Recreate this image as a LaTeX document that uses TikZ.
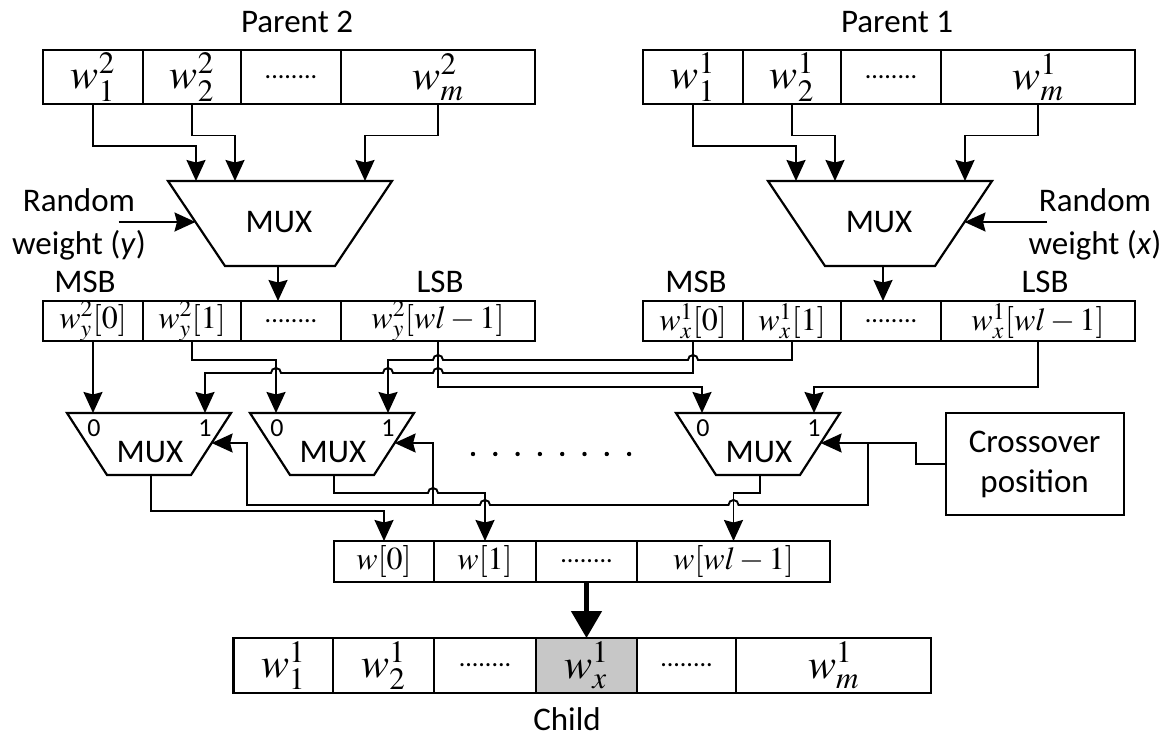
\documentclass[tikz,border=0pt]{standalone}
\usepackage{mathptmx}
\usepackage[no-math]{fontspec}
\setmainfont{Carlito}
\usetikzlibrary{arrows.meta}

\tikzset{
  every node/.style={font=\fontsize{33}{43}\selectfont, inner sep=0pt, outer sep=0pt},
  cell/.style={draw, line width=2.2pt, inner sep=0pt, outer sep=0pt},
  bigw/.style={font=\fontsize{42}{50}\selectfont},
  smallw/.style={font=\fontsize{32}{40}\selectfont},
  gapdots/.style={font=\fontsize{26}{30}\selectfont},
  portlbl/.style={font=\fontsize{26}{30}\selectfont},
  wire/.style={line width=1.9pt, line join=miter},
  arr/.style={wire, -{Stealth[length=21pt,width=19pt,inset=2.5pt]}},
  muxline/.style={line width=2.2pt, line join=miter},
  fat/.style={line width=4.8pt, -{Triangle[length=27pt,width=30pt]}},
}

% two-input multiplexer of the bit stage: name, centre x
\newcommand\drawsmallmux[2]{%
  \draw[muxline] ({#2-82},413) -- ({#2+82},413) -- ({#2+42},475) -- ({#2-42},475) -- cycle;
  \node (#1) at ({#2+1},452) {MUX};
  \node[portlbl] (#1-l0) at ({#2-55},428) {0};
  \node[portlbl] (#1-l1) at ({#2+56},428) {1};
  \coordinate (#1-i0) at ({#2-56},413);
  \coordinate (#1-i1) at ({#2+56},413);
  \coordinate (#1-sel) at ({#2+62.6},443);
  \coordinate (#1-out) at ({#2+2},475);
}

\begin{document}
\begin{tikzpicture}[x=1pt, y=-1pt]
\useasboundingbox (0,0) rectangle (1168,739);
\fill[white] (0,0) rectangle (1168,739);

% ---------- parent chromosomes ----------
\node (par2) at (297,22) {Parent 2};
\node (par1) at (897,22) {Parent 1};

\node[cell, bigw, minimum width=100, minimum height=54] (p2a) at (93,77) {$w_1^2$};
\node[cell, bigw, minimum width=98,  minimum height=54] (p2b) at (192,77) {$w_2^2$};
\node[cell, gapdots, minimum width=100, minimum height=54] (p2c) at (291,77) {........};
\node[cell, bigw, minimum width=194, minimum height=54] (p2d) at (438,77) {$w_m^2$};

\node[cell, bigw, minimum width=100, minimum height=54] (p1a) at (693,77) {$w_1^1$};
\node[cell, bigw, minimum width=98,  minimum height=54] (p1b) at (792,77) {$w_2^1$};
\node[cell, gapdots, minimum width=100, minimum height=54] (p1c) at (891,77) {........};
\node[cell, bigw, minimum width=194, minimum height=54] (p1d) at (1038,77) {$w_m^1$};

% ---------- weight selection multiplexers ----------
\draw[muxline] (168,181) -- (392,181) -- (335,266) -- (225,266) -- cycle;
\node (muxP2) at (279,222) {MUX};
\coordinate (muxP2-i1) at (196,181);
\coordinate (muxP2-i2) at (235,181);
\coordinate (muxP2-i3) at (365,181);
\coordinate (muxP2-sel) at (195.5,222);
\coordinate (muxP2-out) at (278,266);

\draw[muxline] (768,181) -- (992,181) -- (935,266) -- (825,266) -- cycle;
\node (muxP1) at (879,222) {MUX};
\coordinate (muxP1-i1) at (796,181);
\coordinate (muxP1-i2) at (835,181);
\coordinate (muxP1-i3) at (965,181);
\coordinate (muxP1-sel) at (964.5,222);
\coordinate (muxP1-out) at (883,266);

\draw[arr] (p2a.south) -- ++(0,42) -| (muxP2-i1);
\draw[arr] (p2b.south) -- ++(0,31.5) -| (muxP2-i2);
\draw[arr] (p2d.south) -- ++(0,31.5) -| (muxP2-i3);
\draw[arr] (p1a.south) -- ++(0,42) -| (muxP1-i1);
\draw[arr] (p1b.south) -- ++(0,31.5) -| (muxP1-i2);
\draw[arr] (p1d.south) -- ++(0,31.5) -| (muxP1-i3);

\node[align=center] (rndY) at (79,224.5) {Random\\weight (\textit{y})};
\node[align=center] (rndX) at (1095,224.5) {Random\\weight (\textit{x})};
\coordinate (rndY-o) at (118.5,222);
\coordinate (rndX-o) at (1047,222);
\draw[arr] (rndY-o) -- (muxP2-sel);
\draw[arr] (rndX-o) -- (muxP1-sel);

% ---------- selected weights, bit by bit ----------
\node (msbY) at (85,282) {MSB};
\node (lsbY) at (440,282) {LSB};
\node (msbX) at (696,282) {MSB};
\node (lsbX) at (1045,282) {LSB};

\node[cell, smallw, minimum width=100, minimum height=40] (ya) at (93,321) {$w_y^2[0]$};
\node[cell, smallw, minimum width=98,  minimum height=40] (yb) at (192,321) {$w_y^2[1]$};
\node[cell, gapdots, minimum width=100, minimum height=40] (yc) at (291,321) {........};
\node[cell, smallw, minimum width=194, minimum height=40] (yd) at (438,321) {$w_y^2[wl-1]$};

\node[cell, smallw, minimum width=100, minimum height=40] (xa) at (693,321) {$w_x^1[0]$};
\node[cell, smallw, minimum width=98,  minimum height=40] (xb) at (792,321) {$w_x^1[1]$};
\node[cell, gapdots, minimum width=100, minimum height=40] (xc) at (891,321) {........};
\node[cell, smallw, minimum width=194, minimum height=40] (xd) at (1038,321) {$w_x^1[wl-1]$};

\draw[arr] (muxP2-out) -- (muxP2-out |- yc.north);
\draw[arr] (muxP1-out) -- (muxP1-out |- xc.north);

% ---------- bit multiplexers ----------
\drawsmallmux{mA}{149}
\drawsmallmux{mB}{332}
\drawsmallmux{mC}{758}

\foreach \i in {0,...,7} \fill (473+22.3*\i,454) circle (2.2);

% bit wires from both weights, with hops where they cross
\draw[arr] (ya.south) -- (mA-i0);
\draw[arr] (yb.south) -- (192,360) -| (mB-i0);
\draw[arr] (yd.south) -- (438,387) -| (mC-i0);
\draw[arr] (xd.south) -- (1038,387) -| (mC-i1);
\draw[arr] (xb.south) -- (792,360) -- (698,360)
  arc[start angle=0, end angle=-180, radius=5] -- (443,360)
  arc[start angle=0, end angle=-180, radius=5] -- (388,360) -- (mB-i1);
\draw[arr] (xa.south) -- (693,373) -- (443,373)
  arc[start angle=0, end angle=-180, radius=5] -- (393,373)
  arc[start angle=0, end angle=-180, radius=5] -- (281,373)
  arc[start angle=0, end angle=-180, radius=5] -- (205,373) -- (mA-i1);

% crossover position to the select inputs
\node[cell, line width=1.8pt, minimum width=178, minimum height=102, align=center,
      font=\fontsize{33}{40}\selectfont] (xover) at (1034.65,464) {Crossover\\position};
\coordinate (selJ) at (868,443);
\coordinate (selK) at (433,505);
\draw[arr] (xover.west) -- (915.6,464) |- (mC-sel);
\draw[arr] (selJ) -- (868,505) -- (738.5,505)
  arc[start angle=0, end angle=-180, radius=5] -- (490,505)
  arc[start angle=0, end angle=-180, radius=5] -- (247,505) |- (mA-sel);
\draw[arr] (selK) |- (mB-sel);

% ---------- new weight ----------
\node[cell, smallw, minimum width=100, minimum height=41] (wa) at (384,561.5) {$w[0]$};
\node[cell, smallw, minimum width=102, minimum height=41] (wb) at (485,561.5) {$w[1]$};
\node[cell, gapdots, minimum width=101, minimum height=41] (wc) at (586.5,561.5) {........};
\node[cell, smallw, minimum width=193, minimum height=41] (wd) at (733.5,561.5) {$w[wl-1]$};

\draw[arr] (mA-out) -- (151,511) -| (wa.north);
\draw[arr] (mB-out) -- (334,493) -- (428,493)
  arc[start angle=180, end angle=360, radius=5] -| (wb.north);
\draw[arr] (mC-out) -- (760,493) -| (wd.north);

% ---------- child chromosome ----------
\node[cell, bigw, minimum width=99.5, minimum height=55] (ca) at (283.25,665.5) {$w_1^1$};
\node[cell, bigw, minimum width=101, minimum height=55] (cb) at (383.5,665.5) {$w_2^1$};
\node[cell, gapdots, minimum width=102, minimum height=55] (cc) at (485,665.5) {........};
\node[cell, bigw, fill=black!22, minimum width=101, minimum height=55] (cd) at (586.5,665.5) {$w_x^1$};
\node[cell, gapdots, minimum width=99, minimum height=55] (ce) at (686.5,665.5) {........};
\node[cell, bigw, minimum width=195, minimum height=55] (cf) at (833.5,665.5) {$w_m^1$};

\draw[fat] (wc.south) -- (cd.north);

\node (child) at (567,719) {Child};
\end{tikzpicture}
\end{document}
